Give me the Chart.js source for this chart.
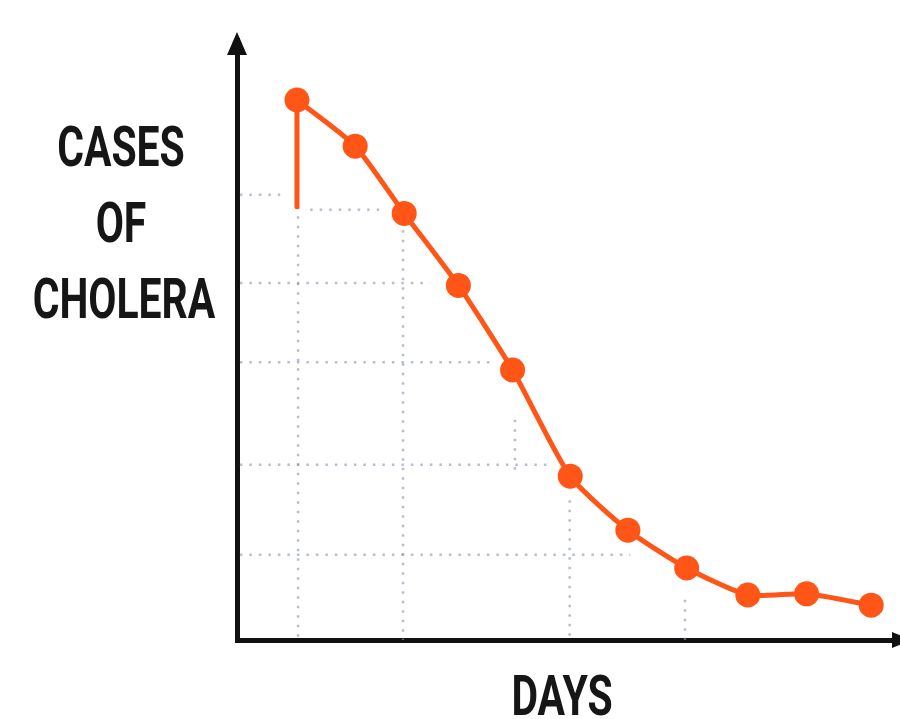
<!DOCTYPE html>
<html lang="en">
<head>
    <meta charset="UTF-8" />
    <title>Cases of cholera</title>
    <script src="https://cdn.jsdelivr.net/npm/chart.js"></script>
    <style>
        body {
            margin: 0;
            background: #ffffff;
        }

        #wrap {
            position: relative;
            width: 900px;
            height: 719px;
            overflow: hidden;
        }

        .label {
            position: absolute;
            font-family: Roboto, "Noto Sans", sans-serif;
            font-weight: 700;
            font-size: 56px;
            color: #161616;
            text-align: center;
            white-space: nowrap;
            transform: scaleX(0.73);
        }

        #yLabel {
            left: 0;
            width: 242px;
            top: 109px;
            line-height: 76px;
        }

        #xLabel {
            left: 462px;
            width: 200px;
            top: 668px;
            line-height: 56px;
        }
    </style>
</head>
<body>
    <div id="wrap">
        <canvas id="cholera"></canvas>
        <div class="label" id="yLabel">CASES<br>OF<br>CHOLERA</div>
        <div class="label" id="xLabel">DAYS</div>
    </div>

    <script>
        // points (x = days, y = cases)
        const days = [1.04, 2.05, 2.9, 3.84, 4.78, 5.78, 6.78, 7.8, 8.86, 9.88, 11.0];
        const cases = [90, 82.3, 71.1, 59.1, 45, 27.3, 18.3, 12, 7.5, 7.7, 5.8];

        // the short red stroke hanging under the first point
        const stemX = [1.04, 1.04];
        const stemY = [90, 72.2];

        // hand-drawn dotted grid: rows (y, from x, to x) and columns (x, from y, to y)
        const rowY = [74.2, 71.7, 59.5, 46.3, 29.2, 14.2];
        const rowFrom = [0.05, 1.27, 0.05, 0.05, 0.05, 0.05];
        const rowTo = [0.75, 2.48, 3.35, 4.44, 5.38, 6.82];
        const colX = [1.06, 2.88, 4.82, 5.77, 7.77];
        const colFrom = [72.2, 68.3, 36.7, 23.3, 6.7];
        const colTo = [0, 0, 28.3, 0, 0];

        const orange = '#ff5517';
        const gridColor = 'rgba(135, 145, 180, 0.6)';

        const datasets = [{
            data: days.map((d, i) => ({ x: d, y: cases[i] })),
            borderColor: orange,
            backgroundColor: orange,
            borderWidth: 5,
            pointRadius: 12.5,
            pointBorderWidth: 0,
            tension: 0.2,
            order: 0
        }, {
            data: stemX.map((x, i) => ({ x: x, y: stemY[i] })),
            borderColor: orange,
            borderWidth: 5,
            borderCapStyle: 'round',
            pointRadius: 0,
            order: 1
        }];

        rowY.forEach((y, i) => {
            datasets.push({
                data: [{ x: rowFrom[i], y: y }, { x: rowTo[i], y: y }],
                borderColor: gridColor,
                borderWidth: 2.5,
                borderDash: [2.5, 7],
                pointRadius: 0,
                order: 2
            });
        });
        colX.forEach((x, i) => {
            datasets.push({
                data: [{ x: x, y: colFrom[i] }, { x: x, y: colTo[i] }],
                borderColor: gridColor,
                borderWidth: 2.5,
                borderDash: [2.5, 7],
                pointRadius: 0,
                order: 2
            });
        });

        // arrow heads on the two axes
        const arrows = {
            id: 'arrows',
            afterDraw(chart) {
                const { ctx, chartArea } = chart;
                ctx.save();
                ctx.fillStyle = '#111111';
                ctx.beginPath();
                ctx.moveTo(chartArea.left, chartArea.top - 8);
                ctx.lineTo(chartArea.left - 10, chartArea.top + 15);
                ctx.lineTo(chartArea.left + 10, chartArea.top + 15);
                ctx.closePath();
                ctx.fill();
                ctx.beginPath();
                ctx.moveTo(chartArea.right + 12, chartArea.bottom);
                ctx.lineTo(chartArea.right - 8, chartArea.bottom - 8);
                ctx.lineTo(chartArea.right - 8, chartArea.bottom + 8);
                ctx.closePath();
                ctx.fill();
                ctx.restore();
            }
        };

        const ctx = document.getElementById('cholera').getContext('2d');
        new Chart(ctx, {
            type: 'line',
            data: { datasets: datasets },
            options: {
                responsive: true,
                maintainAspectRatio: false,
                animation: false,
                clip: false,
                layout: {
                    autoPadding: false,
                    padding: { left: 237, top: 40, right: 0, bottom: 79 }
                },
                plugins: {
                    legend: { display: false },
                    tooltip: { enabled: false }
                },
                scales: {
                    x: {
                        type: 'linear',
                        min: 0,
                        max: 11.5,
                        ticks: { display: false },
                        grid: { display: false },
                        border: { display: true, color: '#111111', width: 5 },
                        afterFit: s => { s.height = 0; }
                    },
                    y: {
                        min: 0,
                        max: 100,
                        ticks: { display: false },
                        grid: { display: false },
                        border: { display: true, color: '#111111', width: 5 },
                        afterFit: s => { s.width = 0; }
                    }
                }
            },
            plugins: [arrows]
        });
    </script>
</body>
</html>
